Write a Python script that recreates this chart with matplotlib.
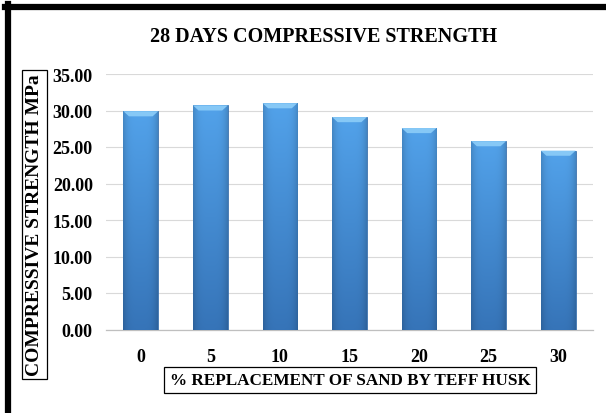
import numpy as np
import matplotlib
matplotlib.use("Agg")
import matplotlib.pyplot as plt
from matplotlib.lines import Line2D
from matplotlib.patches import Polygon

categories = ["0", "5", "10", "15", "20", "25", "30"]
strength = [29.9, 30.7, 31.0, 29.1, 27.6, 25.8, 24.5]
yticks = [0, 5, 10, 15, 20, 25, 30, 35]
title = "28 DAYS COMPRESSIVE STRENGTH"
xlabel = "% REPLACEMENT OF SAND BY TEFF HUSK"
ylabel = "COMPRESSIVE STRENGTH MPa"

plt.rcParams['font.family'] = ['Liberation Serif', 'DejaVu Serif']
plt.rcParams['font.weight'] = 'bold'

W, H = 606, 414
fig = plt.figure(figsize=(W/100, H/100), dpi=100)
ax = fig.add_axes([106/W, (H-330.5)/H, (593-106)/W, (330.5-75)/H])

x = np.arange(len(categories))
bars = ax.bar(x, strength, width=0.5, color='#4a90d8', edgecolor='#2a62a0',
              linewidth=0.5, zorder=3)

# gradient fill for each bar
top_c = np.array([0x52, 0xa2, 0xea]) / 255
bot_c = np.array([0x36, 0x74, 0xb8]) / 255
ny, nx = 100, 30
tv = np.linspace(0, 1, ny)[:, None, None]
hx = np.linspace(-1, 1, nx)[None, :, None]
shade = 1 - 0.15 * hx**4
grad = (top_c * (1 - tv) + bot_c * tv) * shade
grad = np.clip(grad, 0, 1)
for rect in bars:
    x0, y0 = rect.get_x(), rect.get_y()
    w, h = rect.get_width(), rect.get_height()
    im = ax.imshow(grad, extent=[x0, x0 + w, y0, y0 + h], aspect='auto',
                   zorder=3.1, interpolation='bilinear')
    im.set_clip_path(rect)
    d, b = 0.08, 0.7
    bevel = Polygon([(x0, y0 + h), (x0 + w, y0 + h), (x0 + w - d, y0 + h - b),
                     (x0 + d, y0 + h - b)], closed=True, facecolor='#86c8f6',
                    edgecolor='none', zorder=3.2)
    ax.add_patch(bevel)

ax.set_xlim(-0.5, len(categories) - 0.5)
ax.set_ylim(0, 35)
ax.set_yticks(yticks)
ax.set_yticklabels([f"{v:.2f}" for v in yticks], fontsize=13, fontweight='bold')
ax.set_xticks(x)
ax.set_xticklabels(categories, fontsize=13, fontweight='bold')
ax.tick_params(axis='y', length=0, pad=9.5)
ax.tick_params(axis='x', length=0, pad=13)
ax.grid(axis='y', color='#d9d9d9', linewidth=0.8, zorder=0)
ax.set_axisbelow(True)
for s in ['top', 'right', 'left']:
    ax.spines[s].set_visible(False)
ax.spines['bottom'].set_color('#bfbfbf')
ax.spines['bottom'].set_linewidth(0.9)

fig.text(324/W, 1 - 37/H, title, ha='center', va='center', fontsize=14.5,
         fontweight='bold')

fig.text(350/W, 1 - 381/H, xlabel, ha='center', va='center', fontsize=12.3,
         fontweight='bold',
         bbox=dict(boxstyle='square,pad=0.3', facecolor='white',
                   edgecolor='black', linewidth=0.9))
fig.text(34.5/W, 1 - 225.5/H, ylabel, ha='center', va='center', fontsize=14,
         fontweight='bold', rotation=90,
         bbox=dict(boxstyle='square,pad=0.2', facecolor='white',
                   edgecolor='black', linewidth=0.9))

# outer frame (top and left edges)
fig.add_artist(Line2D([5/W, 1], [1 - 8/H, 1 - 8/H], color='black', linewidth=4.5,
                      transform=fig.transFigure))
fig.add_artist(Line2D([8/W, 8/W], [0, 1 - 5/H], color='black', linewidth=4.5,
                      transform=fig.transFigure))

fig.savefig("out.png", dpi=100)
